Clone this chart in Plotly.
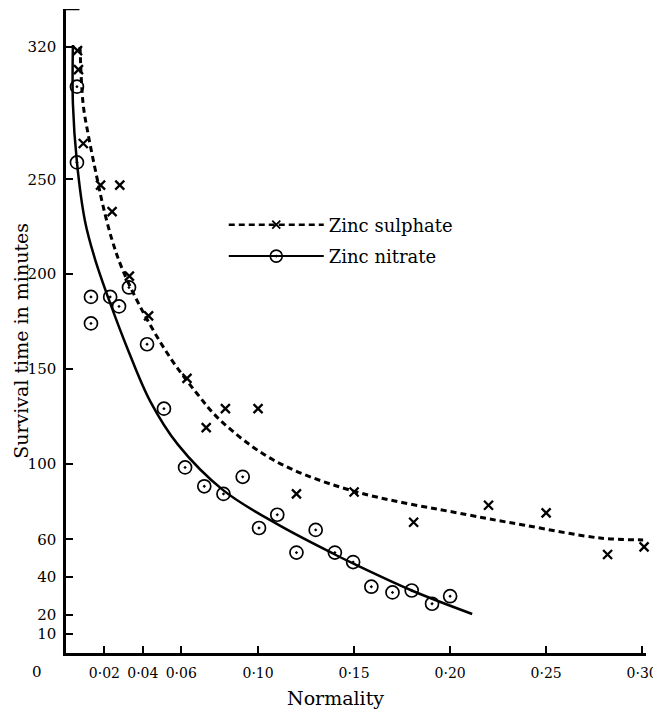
import plotly.graph_objects as go

# ---- data ----
sulphate_x = [0.006, 0.0065, 0.009, 0.018, 0.024, 0.028, 0.033, 0.043, 0.063, 0.073, 0.083,
              0.100, 0.120, 0.150, 0.181, 0.220, 0.250, 0.282, 0.301]
sulphate_y = [318, 308, 269, 247, 233, 247, 199, 178, 145, 119, 129,
              129, 84, 85, 69, 78, 74, 52, 56]

nitrate_x = [0.0057, 0.0057, 0.013, 0.013, 0.023, 0.0276, 0.0328, 0.0422, 0.051, 0.062, 0.072,
             0.082, 0.092, 0.1005, 0.110, 0.120, 0.130, 0.140, 0.1495, 0.159, 0.170, 0.180,
             0.1906, 0.200]
nitrate_y = [299, 259, 188, 174, 188, 183, 193, 163, 129, 98, 88,
             84, 93, 66, 73, 53, 65, 53, 48, 35, 32, 33,
             26, 30]

# fitted curves as drawn in the reference
sulphate_curve_x = [0.0073, 0.0089, 0.0115, 0.0161, 0.0193, 0.024, 0.0292, 0.0396, 0.0542,
                    0.0682, 0.0802, 0.1078, 0.1479, 0.2089, 0.238, 0.2781, 0.3005]
sulphate_curve_y = [320, 290, 274, 251, 236, 218, 203, 181, 156,
                    137, 123, 102, 86, 73, 67.6, 60.7, 59.7]

nitrate_curve_x = [0.0036, 0.0036, 0.0057, 0.0099, 0.0151, 0.0229, 0.0323, 0.0438, 0.0583,
                   0.0818, 0.110, 0.140, 0.150, 0.180, 0.2115]
nitrate_curve_y = [321, 290, 259, 228, 208, 185, 160, 133, 110,
                   86, 68, 52, 47, 33, 20.6]

x_tickvals = [0.02, 0.04, 0.06, 0.10, 0.15, 0.20, 0.25, 0.30]
x_ticktext = ["0·02", "0·04", "0·06", "0·10", "0·15", "0·20", "0·25", "0·30"]
y_tickvals = [10, 20, 40, 60, 100, 150, 200, 250, 320]
y_ticktext = ["10", "20", "40", "60", "100", "150", "200", "250", "320"]

FONT = "DejaVu Serif"

fig = go.Figure()

fig.add_trace(go.Scatter(
    x=sulphate_curve_x, y=sulphate_curve_y, mode="lines",
    line=dict(color="black", width=3, dash="6px,4px", shape="spline", smoothing=1.0),
    showlegend=False, hoverinfo="skip"))
fig.add_trace(go.Scatter(
    x=nitrate_curve_x, y=nitrate_curve_y, mode="lines",
    line=dict(color="black", width=2.5, shape="spline", smoothing=1.0),
    showlegend=False, hoverinfo="skip"))

fig.add_trace(go.Scatter(
    x=sulphate_x, y=sulphate_y, mode="markers", name="Zinc sulphate",
    marker=dict(symbol="x-thin-open", size=9, color="black", line=dict(width=2.3, color="black")),
    cliponaxis=False, showlegend=False))
fig.add_trace(go.Scatter(
    x=nitrate_x, y=nitrate_y, mode="markers", name="Zinc nitrate",
    marker=dict(symbol="circle-open-dot", size=13, color="black", line=dict(width=1.7, color="black")),
    cliponaxis=False, showlegend=False))

# legend entries (line + marker)
fig.add_trace(go.Scatter(
    x=[None], y=[None], mode="lines+markers", name="Zinc sulphate", legendgroup="a",
    line=dict(color="black", width=2.5, dash="6px,4px"),
    marker=dict(symbol="x-thin-open", size=8, color="black", line=dict(width=1.8, color="black"))))
fig.add_trace(go.Scatter(
    x=[None], y=[None], mode="lines+markers", name="Zinc nitrate", legendgroup="b",
    line=dict(color="black", width=2),
    marker=dict(symbol="circle-open-dot", size=12, color="black", line=dict(width=1.6, color="black"))))

# the page body adds an 8px offset, so the figure is sized for the remaining window
fig.update_layout(
    width=653, height=704,
    margin=dict(l=58, r=15, t=1, b=59),
    paper_bgcolor="white", plot_bgcolor="white",
    font=dict(family=FONT, color="black", size=15),
    legend=dict(x=0.272, y=0.6405, xanchor="left", yanchor="middle",
                bgcolor="rgba(0,0,0,0)", itemwidth=95, tracegroupgap=5,
                font=dict(family=FONT, size=18, color="black")),
    xaxis=dict(range=[0, 0.302], showgrid=False, zeroline=False, automargin=False,
               showline=True, linecolor="black", linewidth=2.5,
               ticks="inside", ticklen=7, tickwidth=2, tickcolor="black",
               tickvals=x_tickvals, ticktext=x_ticktext,
               tickfont=dict(family=FONT, size=14), ticklabelstandoff=5),
    yaxis=dict(range=[0, 340], showgrid=False, zeroline=False, automargin=False,
               showline=True, linecolor="black", linewidth=2.5,
               ticks="inside", ticklen=7, tickwidth=2, tickcolor="black",
               tickvals=y_tickvals, ticktext=y_ticktext,
               tickfont=dict(family=FONT, size=15), ticklabelstandoff=4),
    annotations=[
        dict(text="Normality", xref="paper", yref="paper", x=(335 - 66) / 580, y=-0.07,
             xanchor="center", yanchor="middle", showarrow=False,
             font=dict(family=FONT, size=19)),
        dict(text="Survival time in minutes", xref="paper", yref="paper",
             x=-0.079, y=0.485, xanchor="center", yanchor="middle",
             textangle=-90, showarrow=False, font=dict(family=FONT, size=19)),
        dict(text="0", xref="paper", yref="paper", x=-0.05, y=-0.0295,
             xanchor="center", yanchor="middle", showarrow=False,
             font=dict(family=FONT, size=15)),
    ],
    shapes=[dict(type="line", xref="x", yref="y", x0=0, x1=0.007, y0=340, y1=340,
                 line=dict(color="black", width=2.5))],
)

fig.write_html("out.html")
